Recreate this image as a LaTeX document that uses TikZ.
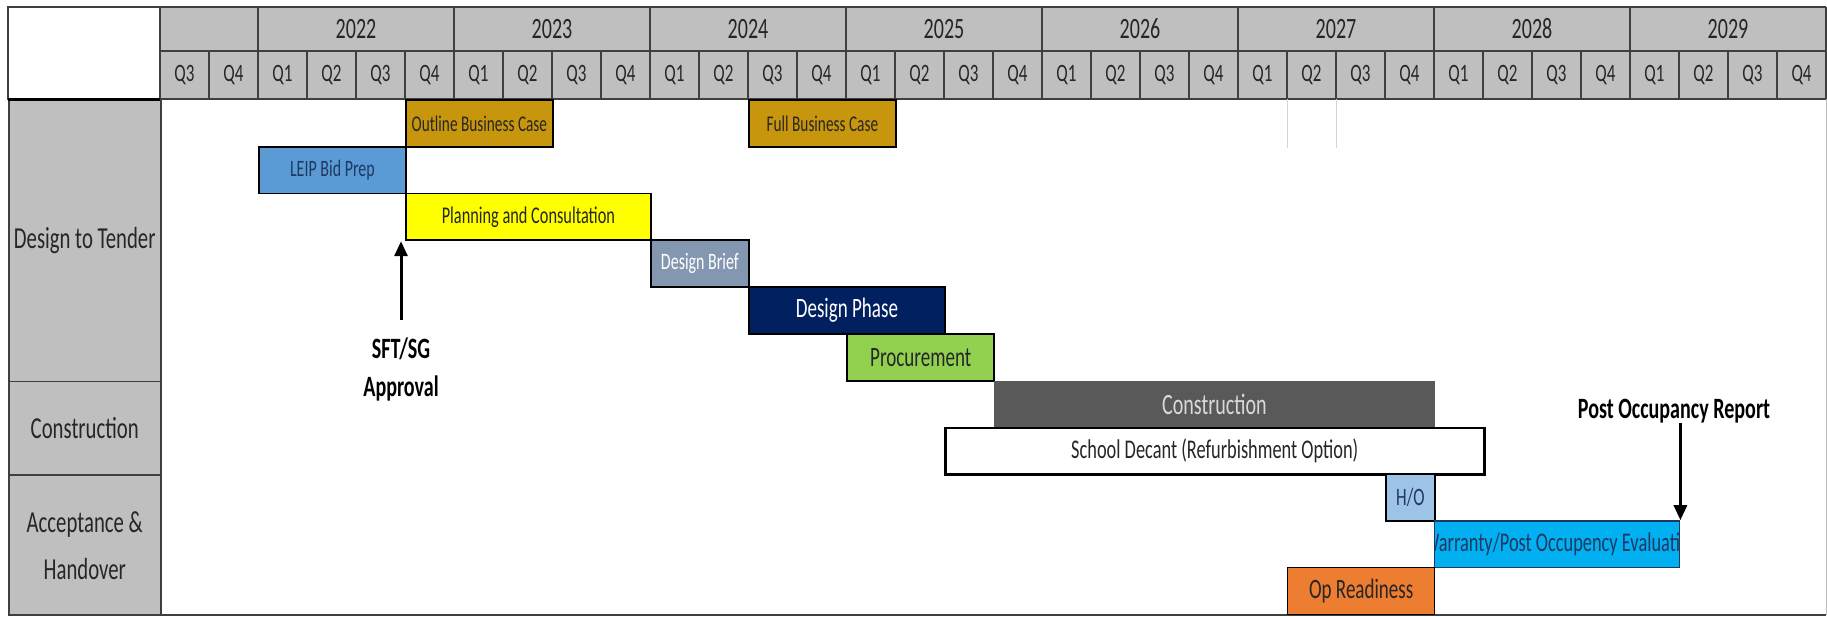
\documentclass[tikz,border=0pt]{standalone}
\usepackage{fontspec}
\setmainfont{Carlito}[FakeStretch=0.68]
\usetikzlibrary{arrows.meta, positioning, calc}
\definecolor{HeadGray}{HTML}{BFBFBF}
\definecolor{GridLine}{HTML}{3F3F3F}
\definecolor{Goldenrod}{HTML}{C8960C}
\definecolor{BidBlue}{HTML}{5B9BD5}
\definecolor{PlanYellow}{HTML}{FFFF00}
\definecolor{BriefSlate}{HTML}{8497B0}
\definecolor{PhaseNavy}{HTML}{002060}
\definecolor{ProcGreen}{HTML}{92D050}
\definecolor{BuildGray}{HTML}{595959}
\definecolor{HandBlue}{HTML}{9DC3E6}
\definecolor{WarrantyCyan}{HTML}{00B0F0}
\definecolor{ReadyOrange}{HTML}{ED7D31}
\definecolor{InkDark}{HTML}{262626}
\definecolor{InkNavy}{HTML}{1F3864}
\newcommand{\fsz}[2]{\fontsize{#1}{#2}\selectfont}
% one quarter = 49px, one row = 46.8px, grid starts at (160,99)
\newcommand{\taskbar}[6]{%
  \node[taskbox, #5, minimum width={(#3-#2)*49pt}, anchor=north west]
    (#1) at ({160+#2*49}, {99+(#4-1)*46.8}) {#6};}

\begin{document}
\begin{tikzpicture}[x=1pt, y=-1pt,
    gridline/.style={draw=GridLine, line width=1.2pt},
    headlabel/.style={text=InkDark, inner sep=0pt},
    labelcell/.style={draw=GridLine, line width=1.5pt, fill=HeadGray, text=InkDark,
        minimum width=152pt, inner sep=0pt, anchor=north west, align=center,
        font=\fsz{30.5}{47}},
    taskbox/.style={draw=black, line width=1.8pt, minimum height=46.8pt,
        inner sep=0pt, text=InkDark},
    milestone/.style={-{Triangle[length=15pt, width=13pt]}, line width=3pt},
    milestonelabel/.style={font=\bfseries\fsz{29.5}{38}, align=center, inner sep=0pt}]

    \fill[white] (0,0) rectangle (1827,616);
    \useasboundingbox (0,0) rectangle (1827,616);

    % Header
    \fill[HeadGray] (160,7) rectangle (1826,99);
    \draw[gridline] (160,7) -- (1826,7);
    \draw[gridline] (160,51) -- (1826,51);
    \draw[gridline] (160,99) -- (1826,99);
    \draw[gridline] (1826,7) -- (1826,99);
    \foreach \i in {0,...,33}{
        \pgfmathtruncatemacro{\qn}{mod(\i+2,4)+1}
        \draw[gridline] ({160+\i*49},51) -- ({160+\i*49},99);
        \node[headlabel, font=\fsz{25}{25}] (q\i) at ({160+(\i+0.5)*49},75) {Q\qn};
    }
    \foreach \yr [count=\k from 0] in {2022,...,2029}{
        \draw[gridline, line width=1.6pt] ({160+(2+4*\k)*49},7) -- ({160+(2+4*\k)*49},99);
        \node[headlabel, font=\fsz{29.5}{29.5}] (y\yr) at ({160+(4+4*\k)*49},29) {\yr};
    }

    % Phase column
    \draw[gridline, line width=1.5pt, fill=white] (8,7) rectangle (160,99);
    \node[labelcell, minimum height=281.8pt] (phasetender) at (8,99) {Design to Tender};
    \node[labelcell, minimum height=93.6pt] (phasebuild) at (8,380.8) {Construction};
    \node[labelcell, minimum height=140.4pt] (phaseaccept) at (8,474.4) {Acceptance \&\\Handover};
    \draw[line width=3pt] (8,99) -- (160,99);

    % Frame of the chart area
    \draw[gridline, line width=1.5pt] (8,614.8) -- (1826,614.8);
    \draw[GridLine!35, line width=1pt] (1826,99) -- (1826,614.8);
    \draw[GridLine!22, line width=0.8pt] ({160+23*49},99) -- ({160+23*49},148);
    \draw[GridLine!22, line width=0.8pt] ({160+24*49},99) -- ({160+24*49},148);

    % Tasks - row by row
    \taskbar{outline}{5}{8}{1}{fill=Goldenrod, font=\fsz{22.5}{22.5}}{Outline Business Case}
    \taskbar{fullcase}{12}{15}{1}{fill=Goldenrod, font=\fsz{22.5}{22.5}}{Full Business Case}
    \taskbar{leip}{2}{5}{2}{fill=BidBlue, text=InkNavy, font=\fsz{23.5}{23.5}}{LEIP Bid Prep}
    \taskbar{planning}{5}{10}{3}{fill=PlanYellow, font=\fsz{24}{24}}{Planning and Consultation}
    \taskbar{brief}{10}{12}{4}{fill=BriefSlate, text=white, font=\fsz{23.5}{23.5}}{Design Brief}
    \taskbar{phase}{12}{16}{5}{fill=PhaseNavy, text=white, font=\fsz{28}{28}}{Design Phase}
    \taskbar{procure}{14}{17}{6}{fill=ProcGreen, line width=2.4pt, font=\fsz{28}{28}}{Procurement}
    \taskbar{construct}{17}{26}{7}{fill=BuildGray, draw=none, text=white!85!black, font=\fsz{29.5}{29.5}}{Construction}
    \taskbar{decant}{16}{27}{8}{fill=white, line width=2.5pt, font=\fsz{27}{27}}{School Decant (Refurbishment Option)}
    \taskbar{handover}{25}{26}{9}{fill=HandBlue, text=InkNavy, font=\fsz{25}{25}}{H/O}
    \taskbar{warranty}{26}{31}{10}{fill=WarrantyCyan, draw=InkNavy, line width=1.4pt,
        path picture={\node[anchor=center, text=InkNavy, font=\fsz{27}{27}]
            at ([xshift=4pt]path picture bounding box.center) {Warranty/Post Occupency Evaluation};}}{}
    \taskbar{ready}{23}{26}{11}{fill=ReadyOrange, line width=1.4pt, font=\fsz{28}{28}}{Op Readiness}

    % Milestones
    \coordinate (approvaltail) at (401,320);
    \node[milestonelabel] (approval) at (401,369) {SFT/SG\\Approval};
    \draw[milestone] (approvaltail) -- (approvaltail |- planning.south);

    \node[milestonelabel] (poreport) at (1674,411) {Post Occupancy Report};
    \draw[milestone] (poreport.south -| warranty.north east) -- (warranty.north east);
\end{tikzpicture}
\end{document}
